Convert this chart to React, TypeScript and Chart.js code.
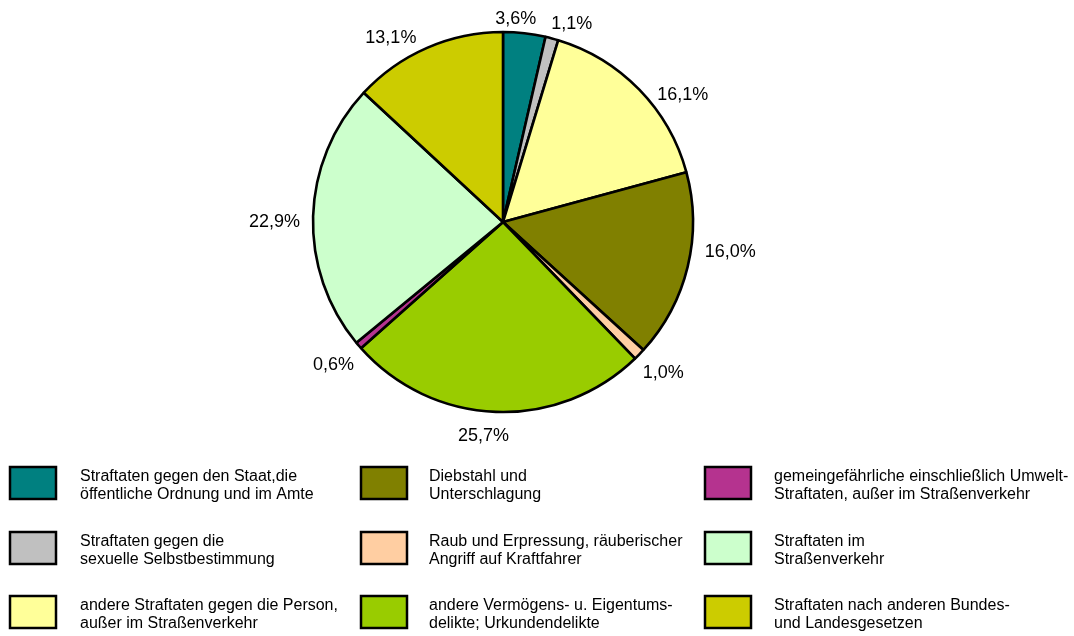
import React, { useEffect, useRef } from "react";
import { Chart, registerables } from "chart.js";

Chart.register(...registerables);

const categories: string[][] = [
  ["Straftaten gegen den Staat,die", "öffentliche Ordnung und im Amte"],
  ["Straftaten gegen die", "sexuelle Selbstbestimmung"],
  ["andere Straftaten gegen die Person,", "außer im Straßenverkehr"],
  ["Diebstahl und", "Unterschlagung"],
  ["Raub und Erpressung, räuberischer", "Angriff auf Kraftfahrer"],
  ["andere Vermögens- u. Eigentums-", "delikte; Urkundendelikte"],
  ["gemeingefährliche einschließlich Umwelt-", "Straftaten, außer im Straßenverkehr"],
  ["Straftaten im", "Straßenverkehr"],
  ["Straftaten nach anderen Bundes-", "und Landesgesetzen"],
];

const shares: number[] = [3.6, 1.1, 16.1, 16.0, 1.0, 25.7, 0.6, 22.9, 13.1];

const shareLabels: string[] = ["3,6%", "1,1%", "16,1%", "16,0%", "1,0%", "25,7%", "0,6%", "22,9%", "13,1%"];

const sliceColors: string[] = [
  "#008080",
  "#C0C0C0",
  "#FFFF99",
  "#808000",
  "#FFCEA2",
  "#99CC00",
  "#B5338F",
  "#CCFFCC",
  "#CCCC00",
];

// small text nudges for percentage labels (dx, dy)
const labelNudge: [number, number][] = [
  [-12, 5],
  [12, 4],
  [18, 19],
  [8, -19],
  [2, 5],
  [-11, 5],
  [-2, 7],
  [-3, 6],
  [-22, 8],
];

const FONT = "Arial, 'Liberation Sans', sans-serif";

const labelPlugin = {
  id: "pctLabels",
  afterDatasetsDraw(chart: any) {
    const ctx = chart.ctx;
    const meta = chart.getDatasetMeta(0);
    ctx.save();
    ctx.font = `18px ${FONT}`;
    ctx.fillStyle = "#000";
    ctx.textAlign = "center";
    ctx.textBaseline = "middle";
    meta.data.forEach((arc: any, i: number) => {
      const { x, y, startAngle, endAngle, outerRadius } = arc.getProps(
        ["x", "y", "startAngle", "endAngle", "outerRadius"],
        true
      );
      const mid = (startAngle + endAngle) / 2;
      const s = Math.cos(mid);
      const c = Math.sin(mid);
      const R = outerRadius + 10;
      const w = ctx.measureText(shareLabels[i]).width;
      const h = 18;
      const cx = x + R * s + (w / 2) * s + labelNudge[i][0];
      const cy = y + R * c + (h / 2) * c + labelNudge[i][1];
      ctx.fillText(shareLabels[i], cx, cy);
    });
    ctx.restore();
  },
};

const legendCols = [10, 361, 705];
const legendTextX = [80, 429, 774];
const legendRows = [467, 532, 596];

const legendPlugin = {
  id: "boxLegend",
  afterDraw(chart: any) {
    const ctx = chart.ctx;
    ctx.save();
    ctx.font = `16px ${FONT}`;
    ctx.textAlign = "left";
    ctx.textBaseline = "middle";
    categories.forEach((lines, i) => {
      const col = Math.floor(i / 3);
      const row = i % 3;
      const bx = legendCols[col];
      const by = legendRows[row];
      const bw = 46;
      const bh = 32;
      ctx.fillStyle = sliceColors[i];
      ctx.fillRect(bx, by, bw, bh);
      ctx.strokeStyle = "#000";
      ctx.lineWidth = 2.5;
      ctx.strokeRect(bx, by, bw, bh);
      ctx.fillStyle = "#000";
      const cy = by + bh / 2 + 3;
      ctx.fillText(lines[0], legendTextX[col], cy - 9);
      ctx.fillText(lines[1], legendTextX[col], cy + 9);
    });
    ctx.restore();
  },
};

export default function App() {
  const ref = useRef<HTMLCanvasElement | null>(null);
  useEffect(() => {
    document.body.style.margin = "0";
    const canvas = ref.current;
    if (!canvas) return;
    const chart = new Chart(canvas, {
      type: "pie",
      data: {
        labels: categories.map((l) => l.join(" ")),
        datasets: [
          {
            data: shares,
            backgroundColor: sliceColors,
            borderColor: "#000",
            borderWidth: 2.6,
            borderAlign: "center",
          } as any,
        ],
      },
      options: {
        animation: false,
        responsive: false,
        maintainAspectRatio: false,
        radius: 190,
        layout: { padding: { left: 0, right: 68, top: 0, bottom: 192 } },
        plugins: {
          legend: { display: false },
          tooltip: { enabled: false },
          title: { display: false },
        },
      } as any,
      plugins: [labelPlugin, legendPlugin],
    });
    return () => chart.destroy();
  }, []);
  return (
    <div style={{ width: 1074, height: 636, background: "#fff" }}>
      <canvas ref={ref} width={1074} height={636} style={{ display: "block" }} />
    </div>
  );
}
